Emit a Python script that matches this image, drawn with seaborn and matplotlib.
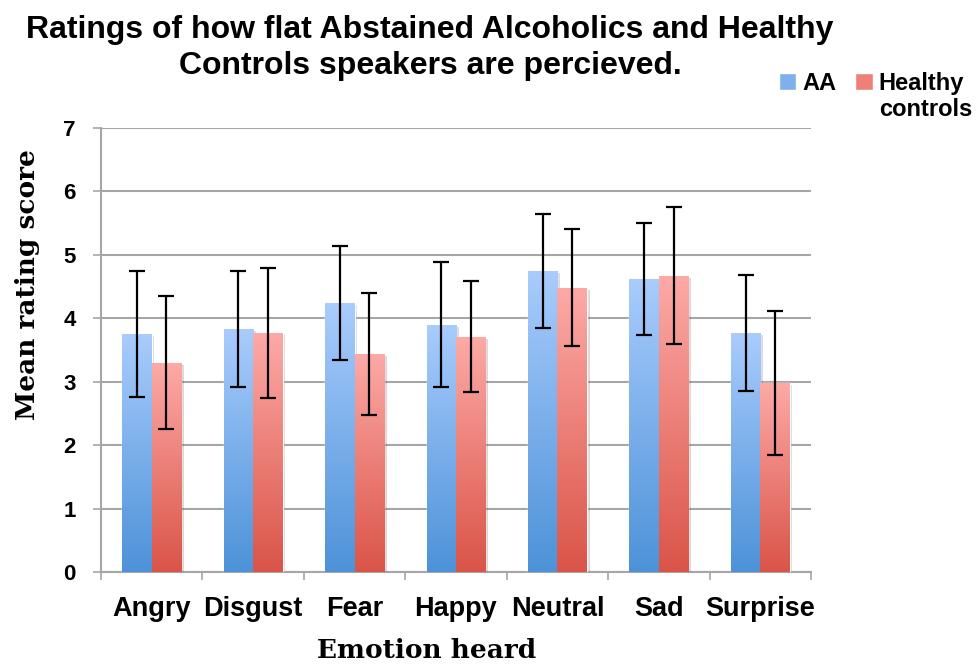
import numpy as np
import pandas as pd
import matplotlib
matplotlib.use("Agg")
import matplotlib.pyplot as plt
import seaborn as sns
from matplotlib.colors import LinearSegmentedColormap
from matplotlib.patches import Patch
import matplotlib.patheffects as pe

emotions = ["Angry", "Disgust", "Fear", "Happy", "Neutral", "Sad", "Surprise"]
groups = ["AA", "Healthy controls"]
aa_means = [3.75, 3.83, 4.24, 3.90, 4.75, 4.62, 3.77]
aa_err = [0.99, 0.91, 0.90, 0.99, 0.90, 0.89, 0.91]
hc_means = [3.30, 3.77, 3.44, 3.71, 4.48, 4.67, 2.98]
hc_err = [1.05, 1.02, 0.96, 0.88, 0.92, 1.08, 1.13]
yticks = [0, 1, 2, 3, 4, 5, 6, 7]
title_lines = ["Ratings of how flat Abstained Alcoholics and Healthy",
               "Controls speakers are percieved."]

df = pd.DataFrame({
    "emotion": emotions * 2,
    "group": [groups[0]] * len(emotions) + [groups[1]] * len(emotions),
    "mean": aa_means + hc_means,
})

sns.set_theme(style="white")
plt.rcParams["font.family"] = ["Liberation Sans", "DejaVu Sans"]
plt.rcParams.update({"text.color": "black", "axes.labelcolor": "black",
                     "xtick.labelcolor": "black", "ytick.labelcolor": "black"})

fig = plt.figure(figsize=(9.76, 6.65), dpi=100)
ax = fig.add_axes([101/976, 1 - 572/665, 710/976, 444/665])

base_colors = ["#7eb0ec", "#ee8078"]
sns.barplot(data=df, x="emotion", y="mean", hue="group", order=emotions,
            hue_order=groups, palette=base_colors, errorbar=None,
            width=0.58, gap=0, ax=ax, legend=False, zorder=3)

cmaps = [
    LinearSegmentedColormap.from_list("b", ["#4d92d8", "#a9ccfd"]),
    LinearSegmentedColormap.from_list("r", ["#da5448", "#fdaaa7"]),
]
grad = np.linspace(0, 1, 256).reshape(-1, 1)
errs = [aa_err, hc_err]
means = [aa_means, hc_means]
ax.set_ylim(0, 7)
ax.set_xlim(-0.5, 6.5)
conts = list(ax.containers)
for gi, cont in enumerate(conts):
    xs = []
    for bar in cont.patches:
        bar.set_path_effects([pe.SimplePatchShadow(offset=(2, -1.5), alpha=0.18), pe.Normal()])
        x0, w, h = bar.get_x(), bar.get_width(), bar.get_height()
        im = ax.imshow(grad, cmap=cmaps[gi], aspect="auto", origin="lower",
                       extent=[x0, x0 + w, 0, h], zorder=3.5, interpolation="bilinear")
        im.set_clip_path(bar)
        xs.append(x0 + w / 2)
    ax.errorbar(xs, means[gi], yerr=errs[gi], fmt="none", ecolor="black",
                elinewidth=1.6, capsize=5.5, capthick=1.6, zorder=5)
ax.set_ylim(0, 7)
ax.set_xlim(-0.5, 6.5)

ax.set_yticks(yticks)
ax.set_yticklabels([str(t) for t in yticks], fontsize=16, fontweight="bold")
ax.yaxis.grid(True, color="#a6a6a6", linewidth=1.5, zorder=0)
ax.set_axisbelow(True)
for s in ["top", "right"]:
    ax.spines[s].set_visible(False)
for s in ["left", "bottom"]:
    ax.spines[s].set_color("#a6a6a6")
    ax.spines[s].set_linewidth(1.5)
ax.tick_params(axis="y", which="major", left=True, length=6, width=1.2,
               color="#a6a6a6", pad=12)
ax.set_xticks(range(len(emotions)))
ax.set_xticklabels(emotions, fontsize=19.5, fontweight="bold")
ax.set_xticks(np.arange(-0.5, 7, 1), minor=True)
ax.tick_params(axis="x", which="major", bottom=False, length=0, pad=17)
ax.tick_params(axis="x", which="minor", bottom=True, length=6, width=1.2,
               color="#a6a6a6")

serif = ["DejaVu Serif", "Liberation Serif"]
ax.set_xlabel("Emotion heard", fontsize=19, fontweight="bold", family=serif)
ax.set_ylabel("Mean rating score", fontsize=19, fontweight="bold", family=serif)
ax.xaxis.set_label_coords((427 - 101) / 710, -(650 - 572) / 444)
ax.yaxis.set_label_coords(-(101 - 28) / 710, (572 - 285) / 444)
ax.xaxis.label.set_va("center")
ax.yaxis.label.set_va("center")

fig.text(430/976, 1 - 30/665, title_lines[0], ha="center", va="center",
         fontsize=23, fontweight="bold")
fig.text(430/976, 1 - 66/665, title_lines[1], ha="center", va="center",
         fontsize=23, fontweight="bold")

handles = [Patch(facecolor="#7eb0ec"), Patch(facecolor="#ee8078")]
leg = fig.legend(handles, ["AA", "Healthy"], loc="upper left",
                 bbox_to_anchor=(762/976, 1 - 55/665),
                 ncol=2, frameon=False, handlelength=0.75, handleheight=0.75,
                 handletextpad=0.25, columnspacing=0.8, borderpad=0.2,
                 prop={"size": 17, "weight": "bold"})
fig.canvas.draw()
r = fig.canvas.get_renderer()
bb = leg.get_texts()[1].get_window_extent(r)
fig.text(bb.x0 / fig.bbox.width, (bb.y0 - 3) / fig.bbox.height, "controls",
         ha="left", va="top", fontsize=17, fontweight="bold")

fig.savefig("out.png", dpi=100)
